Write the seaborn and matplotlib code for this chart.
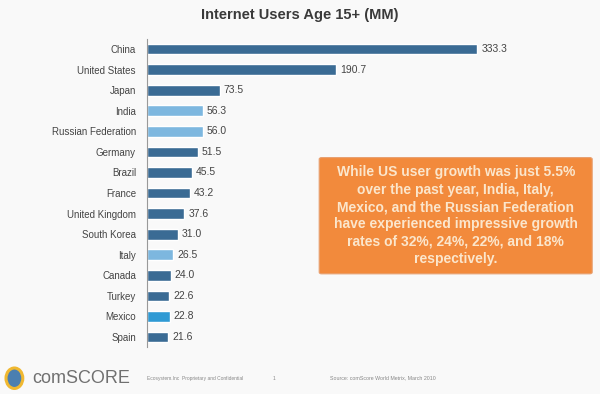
import matplotlib
matplotlib.use("Agg")
import matplotlib.pyplot as plt
import seaborn as sns
import pandas as pd
from matplotlib.patches import FancyBboxPatch, Ellipse

countries = ["China", "United States", "Japan", "India", "Russian Federation",
             "Germany", "Brazil", "France", "United Kingdom", "South Korea",
             "Italy", "Canada", "Turkey", "Mexico", "Spain"]
users = [333.3, 190.7, 73.5, 56.3, 56.0, 51.5, 45.5, 43.2, 37.6, 31.0,
         26.5, 24.0, 22.6, 22.8, 21.6]
highlight = {"India": "#7db7df", "Russian Federation": "#7db7df",
             "Italy": "#7db7df", "Mexico": "#2f9ad4"}
base_color = "#3a6b94"

title = "Internet Users Age 15+ (MM)"
note = ("While US user growth was just 5.5%\nover the past year, India, Italy,\n"
        "Mexico, and the Russian Federation\nhave experienced impressive growth\n"
        "rates of 32%, 24%, 22%, and 18%\nrespectively.")

df = pd.DataFrame({"country": countries, "users": users})
palette = {c: highlight.get(c, base_color) for c in countries}

sns.set_style("white")
plt.rcParams["font.family"] = ["Liberation Sans", "DejaVu Sans"]

fig = plt.figure(figsize=(6, 3.94), dpi=100)
fig.patch.set_facecolor("#f9f9f9")
ax = fig.add_axes([0.245, 0.1185, 0.755, 0.783])
ax.set_facecolor("none")

sns.barplot(data=df, x="users", y="country", hue="country", palette=palette,
            order=countries, legend=False, width=0.52, saturation=1, ax=ax)

ax.set_xlim(0, 457)
ax.set_ylim(14.5, -0.5)
ax.set_xlabel("")
ax.set_ylabel("")
ax.set_xticks([])
for s in ["top", "right", "bottom"]:
    ax.spines[s].set_visible(False)
ax.spines["left"].set_color("#999999")
ax.spines["left"].set_linewidth(0.8)
ax.tick_params(axis="y", length=0, pad=8, labelsize=7, labelcolor="#444444")

for i, v in enumerate(users):
    ax.text(v + 4, i, f"{v:.1f}", va="center", ha="left", fontsize=7.5,
            color="#444444")

fig.text(0.5, 0.962, title, ha="center", va="center", fontsize=10.5,
         color="#3a3a3a", fontweight="bold")

box = FancyBboxPatch((0.532, 0.305), 0.455, 0.295, transform=fig.transFigure,
                     boxstyle="round,pad=0,rounding_size=0.004",
                     facecolor="#f28a3c", edgecolor="#e8a070", linewidth=0.8)
fig.patches.append(box)
fig.text(0.7595, 0.4525, note, ha="center", va="center", fontsize=10,
         color="#fbe6cc", fontweight="bold", linespacing=1.3)

# footer
fig.patches.append(Ellipse((0.024, 0.04), 0.028, 0.052, transform=fig.transFigure,
                           facecolor="#4b7fb0", edgecolor="#f0b830", linewidth=2.2))
fig.text(0.053, 0.04, "comSCORE", ha="left", va="center", fontsize=13,
         color="#707070")
fig.text(0.245, 0.04, "Ecosystem.Inc  Proprietary and Confidential", ha="left",
         va="center", fontsize=3.5, color="#888888")
fig.text(0.455, 0.04, "1", ha="left", va="center", fontsize=3.5, color="#888888")
fig.text(0.55, 0.04, "Source: comScore World Metrix, March 2010", ha="left",
         va="center", fontsize=3.8, color="#888888")

fig.savefig("out.png", dpi=100, facecolor=fig.get_facecolor())
